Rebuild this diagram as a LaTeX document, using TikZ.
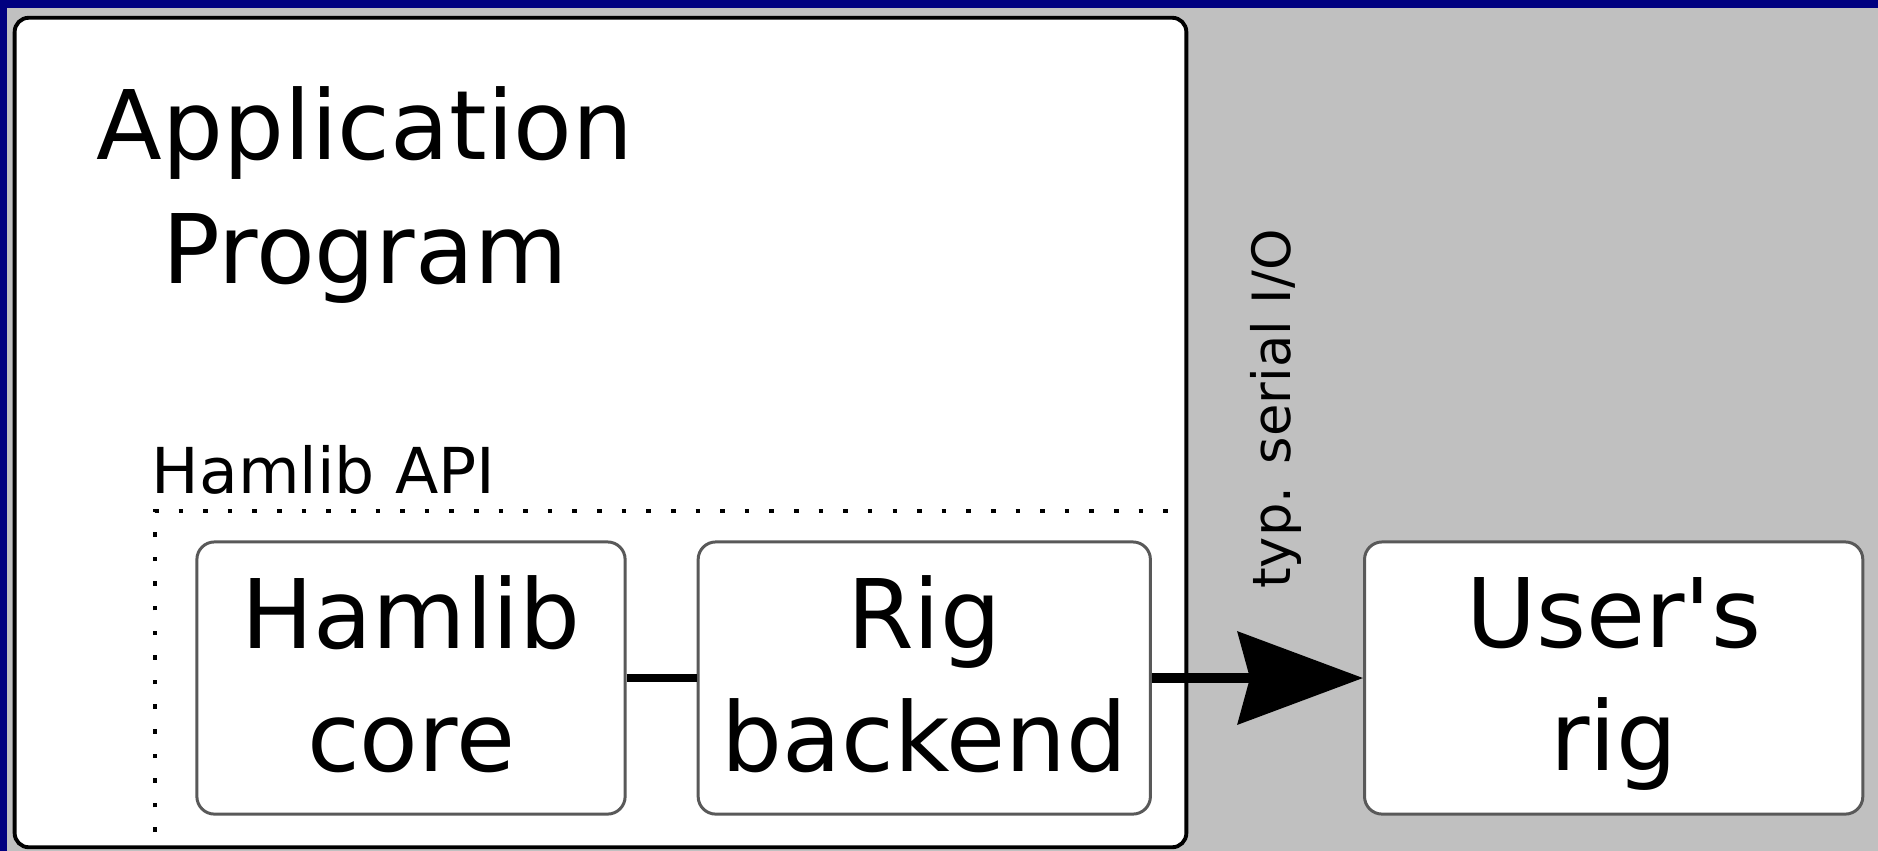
\documentclass[tikz,border=0pt]{standalone}
\usepackage{fontspec}
\setmainfont{DejaVu Sans}
\usetikzlibrary{positioning,arrows.meta}
\definecolor{winblue}{HTML}{000080}
\definecolor{wingray}{HTML}{C0C0C0}

\begin{document}
\begin{tikzpicture}
[x=0.01cm, y=-0.01cm,
appbox/.style={draw=black, line width=1.1pt, fill=white, rounded corners=4pt, minimum width=11.71cm, minimum height=8.29cm},
blockbox/.style={draw=black!65, line width=0.85pt, fill=white, rounded corners=5pt, minimum height=2.72cm, inner sep=0pt, align=center, font=\fontsize{27.3}{35}\selectfont, text depth=2.5pt},
link/.style={line width=2.2pt},
arrow/.style={line width=2.6pt, -{Stealth[length=1.25cm, width=0.92cm, inset=0.12cm]}},
apiline/.style={line width=1.3pt, dash pattern=on 1.3pt off 5.7pt},
node distance=0.7cm,]
    \useasboundingbox (0,0) rectangle (1878,850);
    \fill[wingray] (-20,-20) rectangle (1900,870);
    \fill[winblue] (-20,-20) rectangle (1900,8);
    \fill[winblue] (-20,-20) rectangle (7,870);

    \node (app) [appbox] at (600.5,432.5) {};
    \node (apptitle) [align=center, inner sep=0pt, font=\fontsize{27.3}{35.5}\selectfont, text depth=0pt] at (365,185) {Application\\Program};
    \node (api) [anchor=base west, inner sep=0pt, font=\fontsize{18}{21}\selectfont] at (151,493) {Hamlib API};

    \coordinate (apibottom) at (155,832);
    \coordinate (apicorner) at (155,511);
    \coordinate (apiend) at (1180,511);
    \draw[apiline] (apibottom) -- (apicorner) -- (apiend);

    \node (core) [blockbox, minimum width=4.28cm] at (411,678) {Hamlib\\core};
    \node (backend) [blockbox, minimum width=4.52cm, right=0.7cm of core] {Rig\\backend};
    \node (rig) [blockbox, minimum width=4.98cm, right=2.11cm of backend] {User\textquotesingle s\\rig};

    \draw[link] (core) -- (backend);
    \draw[arrow] (backend) -- (rig);
    \node (serial) [rotate=90, anchor=base, inner sep=0pt, font=\fontsize{15}{18}\selectfont] at (1290,409) {typ. serial I/O};
\end{tikzpicture}
\end{document}
